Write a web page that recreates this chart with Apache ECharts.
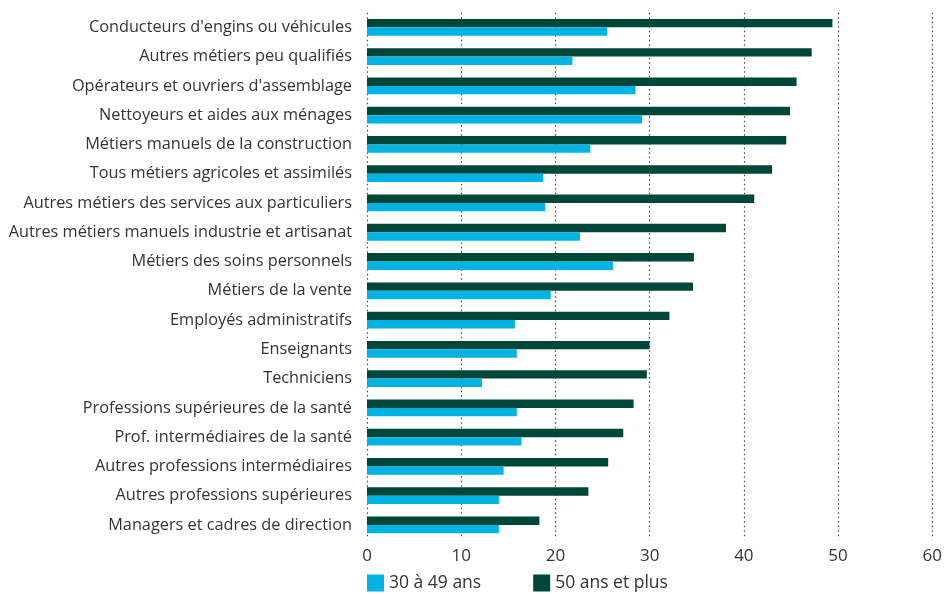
<!DOCTYPE html>
<html><head><meta charset="utf-8">
<script src="https://cdn.jsdelivr.net/npm/echarts@6/dist/echarts.min.js"></script>
<style>html,body{margin:0;padding:0;background:#fff}#c{width:945px;height:595px}</style>
</head><body><div id="c"></div>
<script>
var categories = ["Conducteurs d'engins ou véhicules","Autres métiers peu qualifiés","Opérateurs et ouvriers d'assemblage","Nettoyeurs et aides aux ménages","Métiers manuels de la construction","Tous métiers agricoles et assimilés","Autres métiers des services aux particuliers","Autres métiers manuels industrie et artisanat","Métiers des soins personnels","Métiers de la vente","Employés administratifs","Enseignants","Techniciens","Professions supérieures de la santé","Prof. intermédiaires de la santé","Autres professions intermédiaires","Autres professions supérieures","Managers et cadres de direction"];
var age30_49 = [25.5,21.8,28.5,29.2,23.7,18.7,18.9,22.6,26.1,19.5,15.7,15.9,12.2,15.9,16.4,14.5,14.0,14.0];
var age50plus = [49.4,47.2,45.6,44.9,44.5,43.0,41.1,38.1,34.7,34.6,32.1,30.0,29.7,28.3,27.2,25.6,23.5,18.3];
var xTicks = [0,10,20,30,40,50,60];
var font = "'Open Sans', sans-serif";
var chart = echarts.init(document.getElementById('c'));
chart.setOption({
  animation:false,
  grid:{left:367,right:11,top:12.7,bottom:55.4,containLabel:false},
  legend:{data:['30 à 49 ans','50 ans et plus'],left:362,bottom:-2,itemWidth:17,itemHeight:17,itemGap:52,
    icon:'rect',textStyle:{fontFamily:font,fontSize:17.5,color:'#333'}},
  xAxis:{type:'value',min:0,max:60,interval:10,
    axisLine:{show:false},axisTick:{show:false},
    axisLabel:{fontFamily:font,fontSize:17,color:'#333',margin:8,formatter:function(v){return xTicks.indexOf(v)>=0?String(v):'';}},
    splitLine:{show:true,lineStyle:{type:[1.5,3],color:'#444',width:1.2}}},
  yAxis:{type:'category',data:categories,inverse:true,
    axisLine:{show:false},axisTick:{show:false},
    axisLabel:{fontFamily:font,fontSize:16.3,color:'#333',margin:15}},
  series:[
    {name:'50 ans et plus',type:'bar',data:age50plus,barWidth:8.4,barGap:'0%',itemStyle:{color:'#00473A'}},
    {name:'30 à 49 ans',type:'bar',data:age30_49,barWidth:8.4,barGap:'0%',itemStyle:{color:'#00B3E3'}}
  ]
});
</script></body></html>
